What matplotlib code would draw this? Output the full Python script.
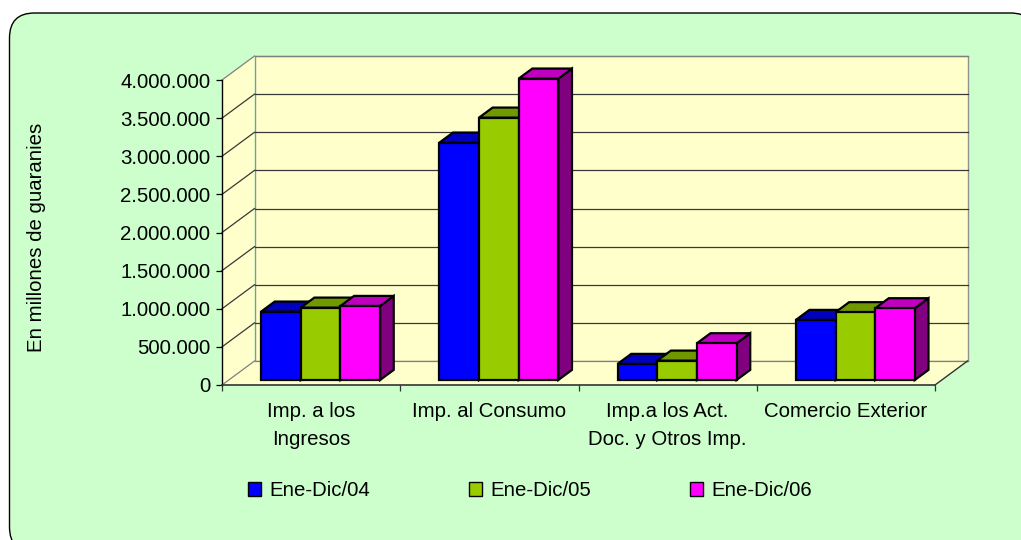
import matplotlib
matplotlib.use('Agg')
import matplotlib.pyplot as plt
from matplotlib.patches import Polygon, Rectangle, FancyBboxPatch, Patch
from matplotlib.lines import Line2D

# ---------------- data ----------------
categories = ["Imp. a los\nIngresos", "Imp. al Consumo",
              "Imp.a los Act.\nDoc. y Otros Imp.", "Comercio Exterior"]
series_names = ["Ene-Dic/04", "Ene-Dic/05", "Ene-Dic/06"]
ene_dic_04 = [896000, 3112000, 210000, 787000]
ene_dic_05 = [948000, 3440000, 253000, 888000]
ene_dic_06 = [970000, 3952000, 481000, 940000]
y_ticks = [0, 500000, 1000000, 1500000, 2000000, 2500000, 3000000, 3500000, 4000000]
y_tick_labels = ["0", "500.000", "1.000.000", "1.500.000", "2.000.000",
                 "2.500.000", "3.000.000", "3.500.000", "4.000.000"]
y_label = "En millones de guaranies"

series = [ene_dic_04, ene_dic_05, ene_dic_06]
front_colors = ['#0000FF', '#99CC00', '#FF00FF']
top_colors = ['#0000C0', '#709900', '#C000C0']
side_colors = ['#000080', '#4D6600', '#800080']

# ---------------- style ----------------
plt.rcParams['font.family'] = ['Liberation Sans', 'DejaVu Sans']
FS = 14.7
W, H = 1021, 540

fig = plt.figure(figsize=(W / 100, H / 100), dpi=100)
fig.patch.set_facecolor('white')

# chart area (rounded, partially clipped at right/bottom)
box = FancyBboxPatch((0.095, -0.12), 10.26, 5.39,
                     boxstyle='round,pad=0,rounding_size=0.25',
                     transform=fig.dpi_scale_trans, facecolor='#CCFFCC',
                     edgecolor='black', lw=1.0, zorder=-5)
fig.add_artist(box)

ax = fig.add_axes([222 / W, (H - 385) / H, (935 - 222) / W, 305 / H])
ncat = len(categories)
ymax = y_ticks[-1]
ax.set_xlim(0, ncat)
ax.set_ylim(0, ymax)
ax.patch.set_visible(False)
for s in ['top', 'right']:
    ax.spines[s].set_visible(False)
ax.spines['left'].set_color('black')
ax.spines['left'].set_linewidth(1.0)
ax.spines['bottom'].set_color('#333333')
ax.spines['bottom'].set_linewidth(1.2)

# depth of the 3D box (in data units)
DX = 32.5 / 178.25
DY = 24 / 305 * ymax

wall_c = '#FFFFCC'
back = Polygon([(DX, DY), (ncat + DX, DY), (ncat + DX, ymax + DY), (DX, ymax + DY)],
               closed=True, fc=wall_c, ec='#909090', lw=1.0, clip_on=False, zorder=0.5)
side = Polygon([(0, 0), (DX, DY), (DX, ymax + DY), (0, ymax)],
               closed=True, fc=wall_c, ec='none', clip_on=False, zorder=0.5)
floor = Polygon([(0, 0), (ncat, 0), (ncat + DX, DY), (DX, DY)],
                closed=True, fc=wall_c, ec='none', clip_on=False, zorder=0.5)
for p in (back, side, floor):
    ax.add_patch(p)

for v in y_ticks:
    edge = (v == 0 or v == ymax)
    c = '#808080' if edge else '#383838'
    ax.add_line(Line2D([DX, ncat + DX], [v + DY, v + DY], color=c, lw=0.9,
                       clip_on=False, zorder=1))
    ax.add_line(Line2D([0, DX], [v, v + DY], color=c, lw=0.9,
                       clip_on=False, zorder=1))
# floor right edge
ax.add_line(Line2D([ncat, ncat + DX], [0, DY], color='#333333', lw=1.0,
                   clip_on=False, zorder=1))

# ---------------- bars ----------------
bw = (119 / 3) / 178.25
left0 = 0.181
f0, f1 = 0.21, 0.63
fx, fy = f0 * DX, f0 * DY
bx, by = f1 * DX, f1 * DY
z = 3
for i in range(ncat):
    for j, vals in enumerate(series):
        v = vals[i]
        x0 = i + left0 + j * bw
        sd = Polygon([(x0 + bw + fx, fy), (x0 + bw + bx, by),
                      (x0 + bw + bx, v + by), (x0 + bw + fx, v + fy)],
                     closed=True, fc=side_colors[j], ec='black', lw=1.6,
                     joinstyle='miter', clip_on=False, zorder=z)
        tp = Polygon([(x0 + fx, v + fy), (x0 + bw + fx, v + fy),
                      (x0 + bw + bx, v + by), (x0 + bx, v + by)],
                     closed=True, fc=top_colors[j], ec='black', lw=1.6,
                     joinstyle='miter', clip_on=False, zorder=z + 0.1)
        fr = Rectangle((x0 + fx, fy), bw, v, fc=front_colors[j], ec='black',
                       lw=1.6, joinstyle='miter', clip_on=False, zorder=z + 0.2)
        ax.add_patch(sd)
        ax.add_patch(tp)
        ax.add_patch(fr)
        z += 1

# ---------------- axes / ticks ----------------
ax.set_yticks(y_ticks, y_tick_labels)
ax.tick_params(axis='y', length=4.3, width=0.9, pad=4.0, labelsize=FS,
               colors='black')
ax.set_xticks(range(ncat + 1))
ax.set_xticklabels([])
ax.tick_params(axis='x', which='major', length=4.5, width=0.9, color='#333333')
ax.set_xticks([i + 0.5 for i in range(ncat)], categories, minor=True)
ax.tick_params(axis='x', which='minor', length=0, pad=12, labelsize=FS)
for t in ax.xaxis.get_minorticklabels():
    t.set_linespacing(1.62)

fig.text(36 / W, 1 - 237 / H, y_label, rotation=90, ha='center', va='center',
         fontsize=FS)

handles = [Patch(fc=c, ec='black', lw=1.0) for c in front_colors]
fig.legend(handles, series_names, loc='center',
           bbox_to_anchor=(530 / W, 1 - 490.5 / H), ncol=3, frameon=False,
           fontsize=FS, handlelength=0.65, handleheight=0.65,
           handletextpad=0.4, columnspacing=4.85, borderaxespad=0, borderpad=0)

fig.savefig('out.png', dpi=100, facecolor=fig.get_facecolor())
